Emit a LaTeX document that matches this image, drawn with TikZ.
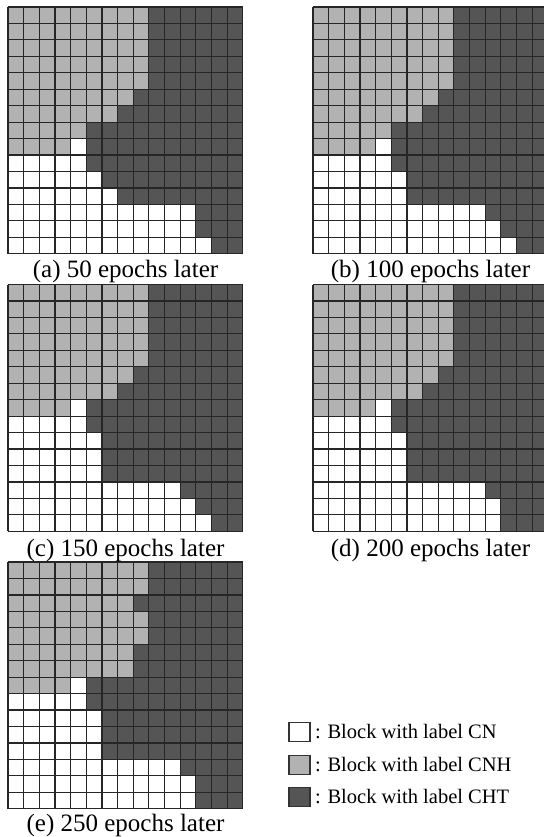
\documentclass[tikz,border=0pt]{standalone}
\usepackage{fontspec}
\setmainfont{Liberation Serif}
\definecolor{lg}{RGB}{178,178,178}
\definecolor{dg}{RGB}{85,85,85}
\def\cw{15.65}
\def\ch{16.45}
\newcommand\mygrid[3]{%
  \foreach \nl/\nw [count=\r from 0] in {#3} {
    \fill[lg] ({#1},{#2+\r*\ch}) rectangle ({#1+\nl*\cw},{#2+(\r+1)*\ch});
    \fill[white] ({#1+\nl*\cw},{#2+\r*\ch}) rectangle ({#1+(\nl+\nw)*\cw},{#2+(\r+1)*\ch});
    \fill[dg] ({#1+(\nl+\nw)*\cw},{#2+\r*\ch}) rectangle ({#1+15*\cw},{#2+(\r+1)*\ch});
  }
  \foreach \i in {0,...,15} {
    \draw[gl] ({#1+\i*\cw},{#2}) -- ({#1+\i*\cw},{#2+15*\ch});
    \draw[gl] ({#1},{#2+\i*\ch}) -- ({#1+15*\cw},{#2+\i*\ch});
  }
}
\tikzset{
  gl/.style={line width=1.2pt, draw=black!85},
  captext/.style={font=\fontsize{25}{30}\selectfont, inner sep=0pt, anchor=base},
  lbox/.style={draw=black!80, line width=1.6pt, minimum width=21pt, minimum height=19pt, inner sep=0pt},
  ltxt/.style={font=\fontsize{20.5}{24}\selectfont, inner sep=0pt, anchor=west, xshift=4pt}
}
\begin{document}
\begin{tikzpicture}[x=1pt,y=-1pt]
\useasboundingbox (0,0) rectangle (543,837);
% (a) 50 epochs
\mygrid{8}{7}{9/0,9/0,9/0,9/0,9/0,8/0,7/0,5/0,4/1,0/5,0/6,0/7,0/12,0/12,0/13}
% (b) 100 epochs
\mygrid{313}{7}{9/0,9/0,9/0,9/0,9/0,8/0,7/0,5/0,4/1,0/5,0/6,0/6,0/11,0/12,0/13}
% (c) 150 epochs
\mygrid{8}{284.5}{9/0,9/0,9/0,9/0,9/0,8/0,7/0,4/1,0/5,0/6,0/6,0/6,0/11,0/12,0/13}
% (d) 200 epochs
\mygrid{313}{284.5}{9/0,9/0,9/0,9/0,9/0,8/0,7/0,4/1,0/5,0/6,0/6,0/6,0/11,0/12,0/12}
% (e) 250 epochs
\mygrid{8}{562}{9/0,9/0,8/0,9/0,9/0,8/0,8/0,4/1,0/5,0/6,0/6,0/6,0/11,0/12,0/12}
\node[captext] (capa) at (125.5,277) {(a) 50 epochs later};
\node[captext] (capb) at (430.5,277) {(b) 100 epochs later};
\node[captext] (capc) at (125.5,556) {(c) 150 epochs later};
\node[captext] (capd) at (430.5,556) {(d) 200 epochs later};
\node[captext] (cape) at (125.5,831) {(e) 250 epochs later};
% legend
\node[lbox, fill=white] (k1) at (299.5,732) {};
\node[lbox, fill=lg] (k2) at (299.5,765) {};
\node[lbox, fill=dg] (k3) at (299.5,797) {};
\node[ltxt] (t1) at (k1.east) {: Block with label CN};
\node[ltxt] (t2) at (k2.east) {: Block with label CNH};
\node[ltxt] (t3) at (k3.east) {: Block with label CHT};
\end{tikzpicture}
\end{document}
